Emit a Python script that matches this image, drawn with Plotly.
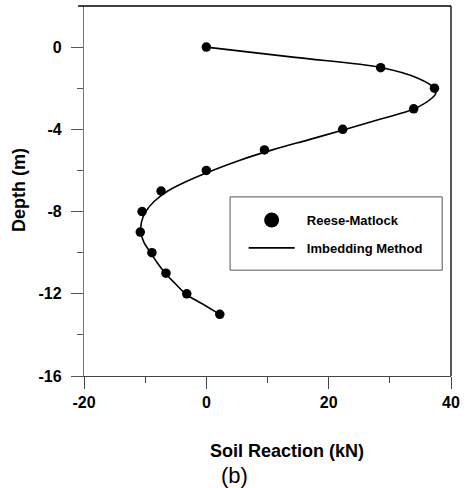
import plotly.graph_objects as go

# Reese-Matlock points
rm_depth = [0, -1, -2, -3, -4, -5, -6, -7, -8, -9, -10, -11, -12, -13]
rm_reaction = [0, 28.5, 37.3, 33.9, 22.3, 9.5, 0, -7.4, -10.5, -10.8, -8.9, -6.6, -3.2, 2.2]

# Imbedding Method curve
im_depth = [0, -0.5, -1, -1.5, -2, -2.25, -2.5, -3, -3.5, -4, -4.5, -5, -5.5, -6, -6.5,
            -7, -7.5, -8, -8.5, -9, -9.5, -10, -10.5, -11, -11.5, -12, -12.5, -13]
im_reaction = [0, 14.5, 28.7, 34.5, 37.3, 37.5, 36.8, 34.0, 28.5, 22.8, 16.8, 10.8, 5.5, 1.0, -3.0,
               -6.3, -8.5, -9.9, -10.6, -10.7, -10.2, -9.1, -8.0, -6.7, -5.1, -3.4, -0.6, 2.2]

x_major = [-20, 0, 20, 40]
x_minor = [-10, 10, 30]
y_major = [0, -4, -8, -12, -16]
y_minor = [-2, -6, -10, -14]

FONT = "Liberation Sans, Arial, sans-serif"
NB = "\u00a0\u00a0"

fig = go.Figure()
fig.add_trace(go.Scatter(
    x=im_reaction, y=im_depth, mode="lines", line=dict(color="black", width=1.6, shape="spline"),
    name="Imbedding Method", showlegend=False))
fig.add_trace(go.Scatter(
    x=rm_reaction, y=rm_depth, mode="markers", marker=dict(color="black", size=9.5),
    name="Reese-Matlock", showlegend=False))
# legend entries
fig.add_trace(go.Scatter(x=[None], y=[None], mode="markers", marker=dict(color="black", size=15),
                         name=NB + "Reese-Matlock", legendgroup="a"))
fig.add_trace(go.Scatter(x=[None], y=[None], mode="lines", line=dict(color="black", width=1.6),
                         name=NB + "Imbedding Method", legendgroup="b"))

tickfont = dict(family=FONT, size=16, color="black", weight="bold")
fig.update_xaxes(
    range=[-20, 40], showgrid=False, zeroline=False,
    showline=True, linecolor="#444", linewidth=1.3,
    ticks="outside", ticklen=12, tickcolor="#444", tickwidth=1.3,
    tickvals=x_major, ticktext=[str(v) for v in x_major], tickfont=tickfont,
    minor=dict(tickvals=x_minor, ticks="outside", ticklen=6, tickcolor="#444", tickwidth=1.3),
)
fig.update_yaxes(
    range=[-16, 2], showgrid=False, zeroline=False,
    showline=True, linecolor="#777", linewidth=1.3,
    ticks="outside", ticklen=12, tickcolor="#555", tickwidth=1.3,
    tickvals=y_major, ticktext=[str(v) for v in y_major], tickfont=tickfont,
    ticklabelstandoff=6,
    minor=dict(tickvals=y_minor, ticks="outside", ticklen=6, tickcolor="#555", tickwidth=1.3),
)

fig.update_layout(
    width=466, height=488,
    margin=dict(l=84, r=10, t=6, b=112),
    paper_bgcolor="white", plot_bgcolor="white",
    font=dict(family=FONT, color="black"),
    legend=dict(
        x=0.435, y=0.462, xanchor="left", yanchor="top",
        borderwidth=0, bgcolor="rgba(0,0,0,0)",
        font=dict(family=FONT, size=13, color="black", weight="bold"),
        itemwidth=46, tracegroupgap=8, traceorder="grouped",
    ),
    shapes=[
        dict(type="line", xref="paper", yref="paper", x0=-0.016, x1=1, y0=1, y1=1,
             line=dict(color="black", width=1.3)),
        dict(type="line", xref="paper", yref="paper", x0=1, x1=1, y0=0, y1=1,
             line=dict(color="black", width=1.3)),
        dict(type="rect", xref="paper", yref="paper", x0=0.398, x1=0.976, y0=0.286, y1=0.484,
             line=dict(color="#555", width=1), fillcolor="white"),
    ],
    annotations=[
        dict(text="<b>Soil Reaction (kN)</b>", xref="paper", yref="paper", x=0.553, y=-0.203,
             xanchor="center", yanchor="middle", showarrow=False,
             font=dict(family=FONT, size=18, color="black")),
        dict(text="(b)", xref="paper", yref="paper", x=0.409, y=-0.268,
             xanchor="center", yanchor="middle", showarrow=False,
             font=dict(family=FONT, size=22, color="black")),
        dict(text="<b>Depth (m)</b>", xref="paper", yref="paper", x=-0.177, y=0.503,
             xanchor="center", yanchor="middle", showarrow=False, textangle=-90,
             font=dict(family=FONT, size=18, color="black")),
    ],
)

fig.write_html("out.html")
